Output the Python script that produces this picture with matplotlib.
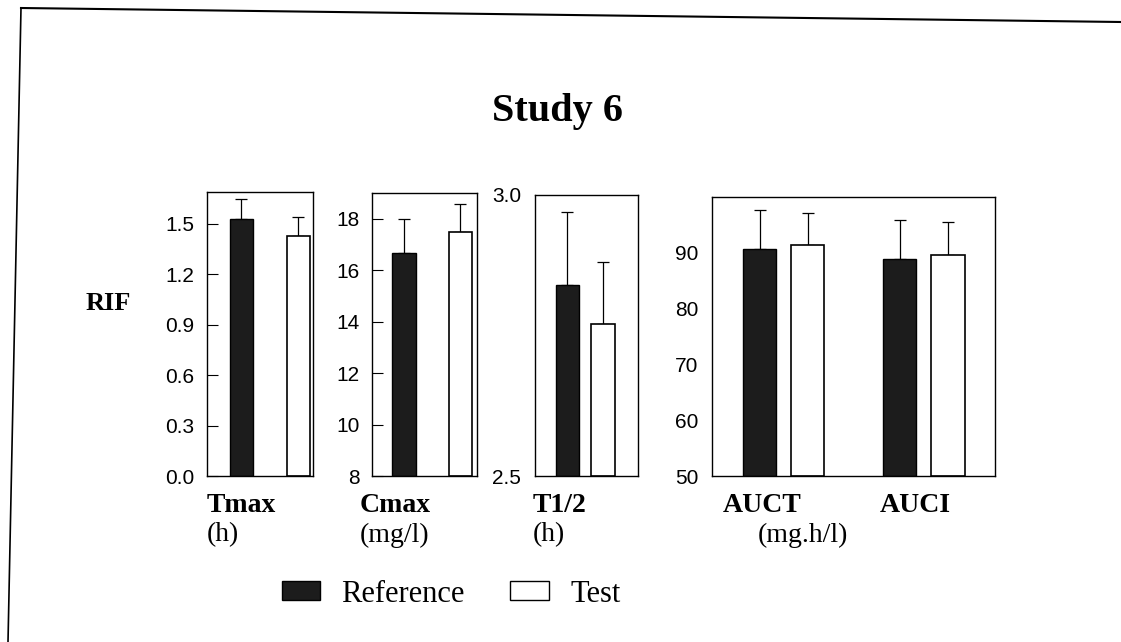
import matplotlib
matplotlib.use('Agg')
import matplotlib.pyplot as plt
from matplotlib.patches import Patch
from matplotlib.lines import Line2D
import numpy as np

# values
params = ['Tmax', 'Cmax', 'T1/2', 'AUCT', 'AUCI']
units = ['(h)', '(mg/l)', '(h)', '(mg.h/l)']
ref_mean = [1.53, 16.65, 2.84, 90.7, 88.8]
ref_sd = [0.12, 1.32, 0.13, 7.0, 7.0]
test_mean = [1.43, 17.5, 2.77, 91.4, 89.6]
test_sd = [0.11, 1.08, 0.11, 5.8, 6.0]

ylims = [(0, 1.69), (8, 19), (2.5, 3.0), (50, 100)]
yticks = [[0.0, 0.3, 0.6, 0.9, 1.2, 1.5],
          [8, 10, 12, 14, 16, 18],
          [2.5, 3.0],
          [50, 60, 70, 80, 90]]
ytick_labels = [['0.0', '0.3', '0.6', '0.9', '1.2', '1.5'],
                ['8', '10', '12', '14', '16', '18'],
                ['2.5', '3.0'],
                ['50', '60', '70', '80', '90']]

W, H = 1121, 642
serif = 'Liberation Serif'
sans = 'Liberation Sans'

fig = plt.figure(figsize=(W / 100, H / 100), dpi=100)

def px_axes(x0, x1, ytop, ybot):
    return fig.add_axes([x0 / W, 1 - ybot / H, (x1 - x0) / W, (ybot - ytop) / H])

# panel boxes in pixels (left, right, top, bottom)
boxes = [(207, 313, 192, 476), (372, 477, 193, 476), (535, 638, 195, 476), (712, 995, 197, 476)]
# bar centres (fraction of the box) for reference/test per panel
pos_ref = [[0.325], [0.305], [0.315], [0.168, 0.663]]
pos_test = [[0.86], [0.84], [0.66], [0.339, 0.834]]
widths = [0.22, 0.22, 0.23, 0.117]
idx = [[0], [1], [2], [3, 4]]
show_ticks = [True, True, False, False]

for k in range(4):
    x0, x1, yt, yb = boxes[k]
    ax = px_axes(x0, x1, yt, yb)
    ii = idx[k]
    rm = np.array([ref_mean[i] for i in ii])
    rs = np.array([ref_sd[i] for i in ii])
    tm = np.array([test_mean[i] for i in ii])
    ts = np.array([test_sd[i] for i in ii])
    lo = ylims[k][0]
    ax.bar(pos_ref[k], rm - lo, bottom=lo, width=widths[k], color='#1c1c1c',
           edgecolor='black', linewidth=1.0, zorder=2)
    ax.bar(pos_test[k], tm - lo, bottom=lo, width=widths[k], color='white',
           edgecolor='black', linewidth=1.2, zorder=2)
    ax.errorbar(pos_ref[k], rm, yerr=[np.zeros_like(rs), rs], fmt='none',
                ecolor='black', elinewidth=0.9, capsize=4, capthick=0.9, zorder=1)
    ax.errorbar(pos_test[k], tm, yerr=[np.zeros_like(ts), ts], fmt='none',
                ecolor='black', elinewidth=0.9, capsize=4, capthick=0.9, zorder=1)
    ax.set_xlim(0, 1)
    ax.set_ylim(*ylims[k])
    ax.set_yticks(yticks[k])
    ax.set_yticklabels(ytick_labels[k], fontfamily=sans, fontsize=15)
    ax.set_xticks([])
    if show_ticks[k]:
        ax.tick_params(axis='y', direction='in', length=8, width=0.8, pad=9)
    else:
        ax.tick_params(axis='y', length=0, pad=10)
    for s in ax.spines.values():
        s.set_linewidth(1.0)

# x labels under the panels
name_x = [207, 360, 533, 723, 880]
unit_x = [207, 360, 533, 758]
for i, p in enumerate(params):
    fig.text(name_x[i] / W, 1 - 505 / H, p, fontfamily=serif, fontweight='bold',
             fontsize=20, ha='left', va='center')
for i, u in enumerate(units):
    fig.text(unit_x[i] / W, 1 - 535 / H, u, fontfamily=serif,
             fontsize=20, ha='left', va='center')

fig.text(108 / W, 1 - 303 / H, 'RIF', fontfamily=serif, fontweight='bold',
         fontsize=19, ha='center', va='center')
fig.text(558 / W, 1 - 112 / H, 'Study 6', fontfamily=serif, fontweight='bold',
         fontsize=29, ha='center', va='center')

handles = [Patch(facecolor='#1c1c1c', edgecolor='black', label='Reference'),
           Patch(facecolor='white', edgecolor='black', label='Test')]
fig.legend(handles=handles, loc='center', bbox_to_anchor=(451 / W, 1 - 594 / H),
           ncol=2, frameon=False, prop={'family': serif, 'size': 22},
           handlelength=1.25, handleheight=0.6, columnspacing=1.5, handletextpad=0.7)

# scan frame lines
fig.add_artist(Line2D([21 / W, 8 / W], [1 - 8 / H, 0], transform=fig.transFigure,
                      color='black', linewidth=1.2))
fig.add_artist(Line2D([21 / W, 1], [1 - 8 / H, 1 - 22 / H], transform=fig.transFigure,
                      color='black', linewidth=1.5))

fig.savefig('out.png', dpi=100)
